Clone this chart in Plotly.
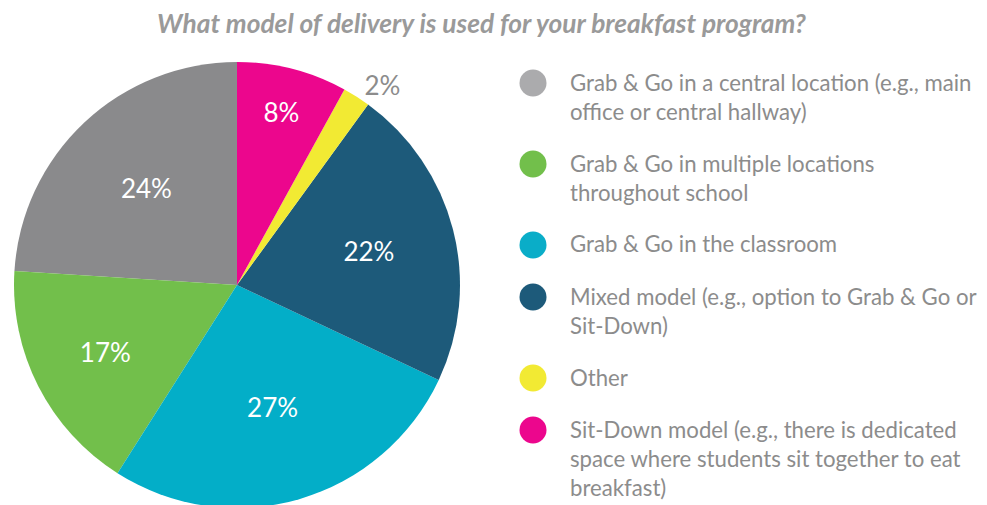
import plotly.graph_objects as go

title_text = "What model of delivery is used for your breakfast program?"
categories = [
    "Grab & Go in a central location (e.g., main<br>office or central hallway)",
    "Grab & Go in multiple locations<br>throughout school",
    "Grab & Go in the classroom",
    "Mixed model (e.g., option to Grab & Go or<br>Sit-Down)",
    "Other",
    "Sit-Down model (e.g., there is dedicated<br>space where students sit together to eat<br>breakfast)",
]
values = [24, 17, 27, 22, 2, 8]
slice_colors = ["#8a8a8c", "#72bf4b", "#03aec8", "#1d5a7a", "#f2ea33", "#ec068d"]
legend_colors = ["#ababad", "#72bf4b", "#0aadc8", "#1d5a7a", "#f2ea33", "#ec068d"]
label_pos = ["inside", "inside", "inside", "inside", "outside", "inside"]

# page body has an 8px margin; shift everything by it
OFF = 8
W, H = 987 - OFF, 505
FONT = "Lato"
GREY = "#8c8c8c"


def px(x):
    return (x - OFF) / W


def py(y):
    return 1 - (y - OFF) / H


cx, cy, R = 237 - OFF, 285 - OFF, 223
# first slice should start at 12 o'clock and run counterclockwise
rot = -360.0 * values[0] / sum(values)

fig = go.Figure()
fig.add_trace(go.Pie(
    labels=categories,
    values=values,
    sort=False,
    direction="counterclockwise",
    rotation=rot,
    marker=dict(colors=slice_colors, line=dict(width=0)),
    texttemplate="%{percent:.0%}",
    textposition=label_pos,
    insidetextorientation="horizontal",
    insidetextfont=dict(color="white", size=26, family=FONT),
    outsidetextfont=dict(color=GREY, size=26, family=FONT),
    showlegend=False,
    hoverinfo="label+percent",
    domain=dict(x=[(cx - R) / W, (cx + R) / W], y=[(H - cy - R) / H, (H - cy + R) / H]),
))

# custom legend: circles + wrapped text
line_h = 29
gap = 23
y = 83
for cat, col in zip(categories, legend_colors):
    n_lines = cat.count("<br>") + 1
    r = 13.5
    fig.add_shape(type="circle", xref="paper", yref="paper",
                  x0=px(533 - r), x1=px(533 + r),
                  y0=py(y + r), y1=py(y - r),
                  fillcolor=col, line=dict(width=0))
    fig.add_annotation(x=px(568), y=py(y - line_h / 2 - 2), xref="paper", yref="paper",
                       text=cat, showarrow=False, xanchor="left", yanchor="top",
                       align="left", font=dict(family=FONT, size=22.2, color=GREY))
    y += n_lines * line_h + gap

fig.add_annotation(x=px(482), y=py(23), xref="paper", yref="paper",
                   text="<b><i>" + title_text + "</i></b>", showarrow=False,
                   xanchor="center", yanchor="middle",
                   font=dict(family=FONT, size=26.3, color="#9a9a9a"))

fig.update_layout(width=W, height=H, margin=dict(l=0, r=0, t=0, b=0),
                  paper_bgcolor="white", plot_bgcolor="white")
fig.write_html("out.html")
